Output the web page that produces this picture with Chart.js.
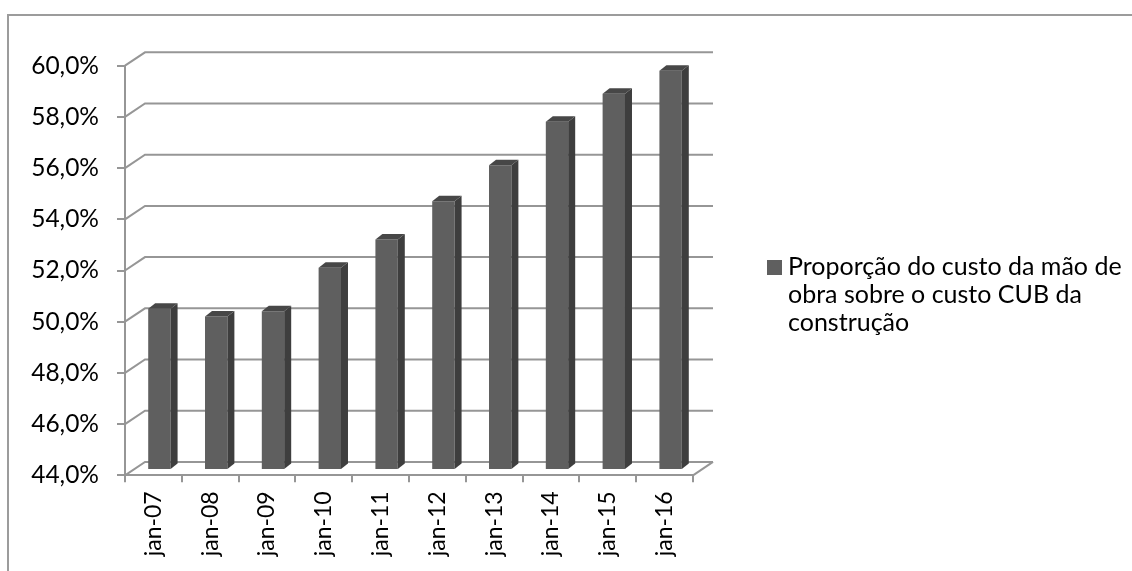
<!DOCTYPE html>
<html>
<head>
<meta charset="utf-8">
<script src="https://cdn.jsdelivr.net/npm/chart.js@4/dist/chart.umd.min.js"></script>
<style>
  html, body { margin: 0; padding: 0; background: #fff; }
  #wrap { position: relative; width: 1132px; height: 571px; overflow: hidden; }
  #frame { position: absolute; left: 7px; top: 14px; width: 1200px; height: 700px;
           border-left: 2px solid #9c9c9c; border-top: 2px solid #9c9c9c; }
  #grafico { position: absolute; left: 0; top: 0; }
  #legenda { position: absolute; left: 767px; top: 251px; width: 362px;
             font-family: Lato, sans-serif; font-size: 25px; line-height: 28px; color: #000; }
  #legenda .caixa { position: absolute; left: 0; top: 9px; width: 15px; height: 15px; }
  #legenda .texto { margin-left: 21px; }
</style>
</head>
<body>
<div id="wrap">
  <div id="frame"></div>
  <canvas id="grafico" width="1132" height="571"></canvas>
  <div id="legenda"></div>
</div>
<script>
(function () {
  'use strict';

  /* Proporção mão de obra / CUB, jan de cada ano */
  const LABELS = ['jan-07','jan-08','jan-09','jan-10','jan-11','jan-12','jan-13','jan-14','jan-15','jan-16'];
  const PROPORCAO = [50.3, 50.0, 50.2, 51.9, 53.0, 54.5, 55.9, 57.6, 58.7, 59.6];
  const SERIE_NOME = 'Proporção do custo da mão de obra sobre o custo CUB da construção';
  const Y_MIN = 44;
  const Y_MAX = 60;
  const Y_PASSO = 2;

  const COR = {
    frente: '#5f5f5f',
    lado:   '#3e3e3e',
    topo:   '#474747',
    grade:  '#969696',
    texto:  '#000000'
  };

  /* profundidade do "3D" estilo Excel */
  const PAREDE = { dx: 20, dy: -13.4 };   // parede do fundo
  const FACE   = { dx: 6,  dy: -5.3 };    // face frontal da coluna
  const CORPO  = { dx: 7,  dy: -5.5 };    // espessura da coluna

  const efeito3d = {
    id: 'efeito3d',
    beforeDatasetsDraw: function (chart) {
      const ctx = chart.ctx;
      const a = chart.chartArea;
      const y = chart.scales.y;
      ctx.save();
      ctx.strokeStyle = COR.grade;
      ctx.lineWidth = 2;
      y.ticks.forEach(function (t) {
        const py = y.getPixelForValue(t.value);
        ctx.beginPath();
        ctx.moveTo(a.left, py);
        ctx.lineTo(a.left + PAREDE.dx, py + PAREDE.dy);
        ctx.lineTo(a.right + PAREDE.dx, py + PAREDE.dy);
        ctx.stroke();
      });
      // lateral direita do piso
      ctx.beginPath();
      ctx.moveTo(a.right, a.bottom);
      ctx.lineTo(a.right + PAREDE.dx, a.bottom + PAREDE.dy);
      ctx.stroke();
      ctx.restore();
      ctx.save();
      ctx.translate(FACE.dx, FACE.dy);
    },
    afterDatasetsDraw: function (chart) {
      const ctx = chart.ctx;
      ctx.restore();
      const meta = chart.getDatasetMeta(0);
      ctx.save();
      meta.data.forEach(function (bar) {
        const esq = bar.x - bar.width / 2 + FACE.dx;
        const dir = bar.x + bar.width / 2 + FACE.dx;
        const topo = bar.y + FACE.dy;
        const base = bar.base + FACE.dy;
        ctx.fillStyle = COR.lado;
        ctx.beginPath();
        ctx.moveTo(dir, topo);
        ctx.lineTo(dir + CORPO.dx, topo + CORPO.dy);
        ctx.lineTo(dir + CORPO.dx, base + CORPO.dy);
        ctx.lineTo(dir, base);
        ctx.closePath();
        ctx.fill();
        ctx.fillStyle = COR.topo;
        ctx.beginPath();
        ctx.moveTo(esq, topo);
        ctx.lineTo(esq + CORPO.dx, topo + CORPO.dy);
        ctx.lineTo(dir + CORPO.dx, topo + CORPO.dy);
        ctx.lineTo(dir, topo);
        ctx.closePath();
        ctx.fill();
      });
      ctx.restore();
    }
  };

  const chart = new Chart(document.getElementById('grafico'), {
    type: 'bar',
    data: {
      labels: LABELS,
      datasets: [{
        label: SERIE_NOME,
        data: PROPORCAO,
        base: Y_MIN,
        backgroundColor: COR.frente,
        borderWidth: 0,
        categoryPercentage: 1,
        barPercentage: 0.394,
        clip: false
      }]
    },
    options: {
      responsive: false,
      animation: false,
      events: [],
      layout: { padding: { top: 65.7, right: 439, bottom: 0, left: 0 } },
      plugins: {
        legend: { display: false },
        tooltip: { enabled: false }
      },
      scales: {
        x: {
          grid: {
            drawOnChartArea: false,
            drawTicks: true,
            tickLength: 7,
            color: COR.grade,
            lineWidth: 2
          },
          border: { color: COR.grade, width: 2 },
          ticks: {
            color: COR.texto,
            font: { family: 'Lato, sans-serif', size: 23 },
            minRotation: 90,
            maxRotation: 90,
            padding: 9,
            autoSkip: false
          },
          afterFit: function (s) { s.height = 571 - 475.3; }
        },
        y: {
          min: Y_MIN,
          max: Y_MAX,
          grid: {
            drawOnChartArea: false,
            drawTicks: true,
            tickLength: 8,
            color: COR.grade,
            lineWidth: 2
          },
          border: { color: COR.grade, width: 2 },
          ticks: {
            stepSize: Y_PASSO,
            color: COR.texto,
            font: { family: 'Lato, sans-serif', size: 24.5 },
            padding: 18,
            callback: function (v) { return v.toFixed(1).replace('.', ',') + '%'; }
          },
          afterFit: function (s) { s.width = 125; }
        }
      }
    },
    plugins: [efeito3d]
  });

  /* legenda em HTML para permitir quebra de linha */
  const leg = document.getElementById('legenda');
  const ds = chart.data.datasets[0];
  leg.innerHTML = '<span class="caixa" style="background:' + ds.backgroundColor + '"></span>' +
                  '<div class="texto">' + ds.label + '</div>';
})();
</script>
</body>
</html>
